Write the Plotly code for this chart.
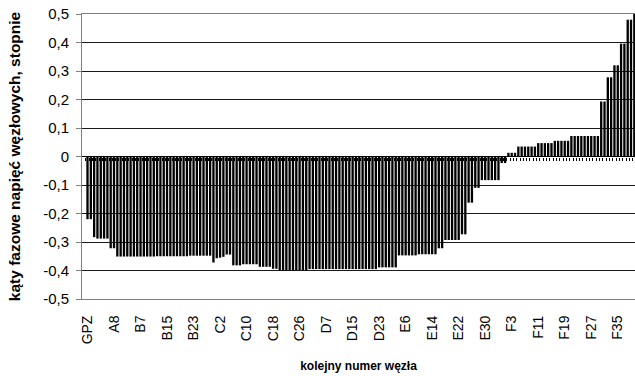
import plotly.graph_objects as go

# Node names: the supply point GPZ followed by feeders A..F
feeder_sizes = {"A": 9, "B": 29, "C": 27, "D": 25, "E": 35, "F": 40}
nodes = ["GPZ"] + [f"{k}{i}" for k, n in feeder_sizes.items() for i in range(1, n + 1)]

# Node voltage phase angles, degrees
gpz_angle = [-0.22]
a_angles = [-0.22, -0.283, -0.288, -0.288, -0.288, -0.288, -0.322, -0.322, -0.351]
b_angles = [-0.351, -0.351, -0.351, -0.351, -0.351, -0.351, -0.351, -0.351, -0.351, -0.351,
            -0.351, -0.350, -0.350, -0.350, -0.350, -0.350, -0.350, -0.350, -0.350, -0.350,
            -0.350, -0.348, -0.348, -0.348, -0.348, -0.348, -0.348, -0.348, -0.372]
c_angles = [-0.357, -0.355, -0.352, -0.344, -0.344, -0.382, -0.382, -0.382, -0.378, -0.378,
            -0.378, -0.378, -0.378, -0.387, -0.387, -0.387, -0.387, -0.394, -0.394, -0.399,
            -0.399, -0.399, -0.399, -0.399, -0.399, -0.399, -0.399]
d_angles = [-0.399, -0.395, -0.395, -0.395, -0.395, -0.395, -0.395, -0.395, -0.395, -0.395,
            -0.395, -0.395, -0.395, -0.395, -0.395, -0.395, -0.395, -0.395, -0.395, -0.395,
            -0.395, -0.395, -0.389, -0.389, -0.389]
e_angles = [-0.389, -0.389, -0.389, -0.347, -0.347, -0.347, -0.347, -0.347, -0.347, -0.343,
            -0.343, -0.343, -0.343, -0.343, -0.343, -0.322, -0.322, -0.293, -0.293, -0.293,
            -0.293, -0.293, -0.273, -0.273, -0.162, -0.162, -0.110, -0.110, -0.083, -0.083,
            -0.083, -0.083, -0.083, -0.083, -0.023]
f_angles = [-0.023, 0.013, 0.013, 0.013, 0.035, 0.035, 0.035, 0.035, 0.035, 0.035,
            0.047, 0.047, 0.047, 0.047, 0.047, 0.055, 0.055, 0.055, 0.055, 0.055,
            0.072, 0.072, 0.072, 0.072, 0.072, 0.072, 0.072, 0.072, 0.072, 0.193,
            0.193, 0.278, 0.278, 0.320, 0.320, 0.396, 0.396, 0.480, 0.480, 0.500]

angles = gpz_angle + a_angles + b_angles + c_angles + d_angles + e_angles + f_angles

label_step = 8
y_ticks = [0.5, 0.4, 0.3, 0.2, 0.1, 0, -0.1, -0.2, -0.3, -0.4, -0.5]
y_tick_text = [f"{v:.1f}".replace(".", ",") if v != 0 else "0" for v in y_ticks]

FONT = "Liberation Sans, Arial, sans-serif"
x_range = [-1.66, len(nodes) - 0.8]

fig = go.Figure()
fig.add_trace(go.Bar(x=nodes, y=angles, marker=dict(color="black", line=dict(width=0)),
                     showlegend=False))
# carrier for the category tick marks drawn along the zero line
fig.add_trace(go.Scatter(x=[], y=[], xaxis="x2", showlegend=False, hoverinfo="skip"))

fig.update_layout(
    width=635, height=376,
    margin=dict(l=82, r=0, t=14, b=77),
    paper_bgcolor="white", plot_bgcolor="white",
    bargap=0.3,
    font=dict(family=FONT, size=12, color="black"),
    xaxis=dict(
        type="category", range=x_range,
        tickmode="array", tickvals=nodes[::label_step], ticktext=nodes[::label_step],
        tickangle=-90, ticks="", ticklabelstandoff=10,
        tickfont=dict(family=FONT, size=14),
        showgrid=False, showline=True, mirror=True, linecolor="#808080", linewidth=1,
        title=dict(text="<b>kolejny numer węzła</b>", standoff=18,
                   font=dict(family=FONT, size=12)),
    ),
    xaxis2=dict(
        overlaying="x", anchor="free", position=0.5, side="bottom",
        range=x_range, tickmode="array",
        tickvals=[i - 0.5 for i in range(len(nodes) + 1)],
        ticks="outside", ticklen=3, tickcolor="black", tickwidth=1,
        showticklabels=False, showgrid=False, showline=False, zeroline=False,
    ),
    yaxis=dict(
        range=[-0.5, 0.5], tickmode="array", tickvals=y_ticks, ticktext=y_tick_text,
        ticks="outside", ticklen=5, tickcolor="#808080", ticklabelstandoff=4,
        showline=True, linecolor="#808080", linewidth=1,
        showgrid=True, gridcolor="#1a1a1a", gridwidth=1,
        zeroline=True, zerolinecolor="black", zerolinewidth=1,
        tickfont=dict(family=FONT, size=15),
        title=dict(text="<b>kąty fazowe napięć węzłowych, stopnie</b>", standoff=18,
                   font=dict(family=FONT, size=15.5)),
    ),
)

fig.write_html("out.html")
